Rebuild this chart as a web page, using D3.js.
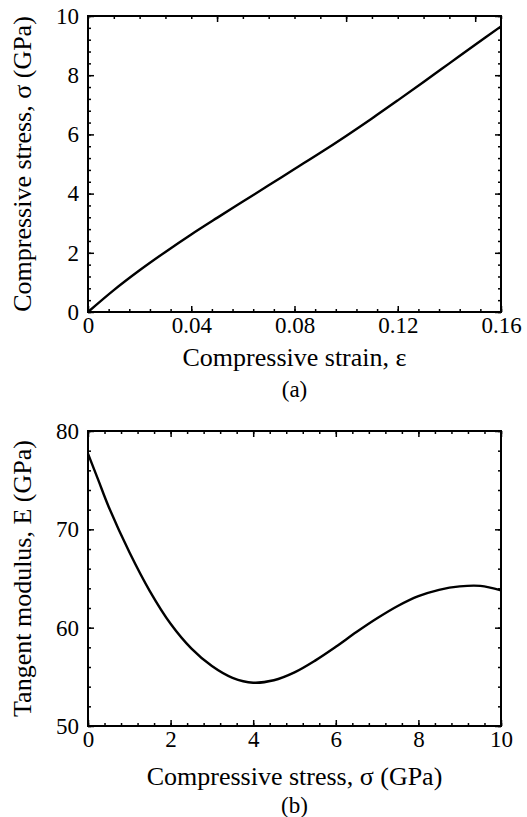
<!DOCTYPE html>
<html lang="en">
<head>
<meta charset="UTF-8">
<title>Compressive stress-strain curve and tangent modulus</title>
<script src="https://d3js.org/d3.v7.min.js"></script>
<style>
    body { margin: 0; background: #fff; }
    svg { display: block; font-family: "Liberation Serif", "Times New Roman", serif; }
    .tick text { font-family: "Liberation Serif", "Times New Roman", serif; font-size: 23px; fill: #000; }
    .tick line { stroke: #000; stroke-width: 1.5; }
    .title { font-size: 26px; fill: #000; }
    .tag { font-size: 23px; fill: #000; }
</style>
</head>
<body>
<div id="chart"></div>
<script>
    // panel (a): stress vs strain
    const strain = [0, 0.01, 0.02, 0.03, 0.04, 0.05, 0.06, 0.07, 0.08, 0.09, 0.10, 0.11, 0.12, 0.13, 0.14, 0.15, 0.16];
    const stress = [0, 0.74, 1.41, 2.03, 2.62, 3.18, 3.73, 4.28, 4.83, 5.38, 5.95, 6.54, 7.15, 7.77, 8.40, 9.03, 9.65];

    // panel (b): tangent modulus vs stress
    const stressB = [0, 0.25, 0.5, 1, 1.5, 2, 2.5, 3, 3.5, 4, 4.5, 5, 5.5, 6, 6.5, 7, 7.5, 8, 8.5, 9, 9.5, 10];
    const modulus = [77.7, 75.0, 72.3, 67.7, 63.7, 60.4, 57.9, 56.1, 54.9, 54.4, 54.65, 55.45, 56.65, 58.05, 59.55, 60.95, 62.2, 63.2, 63.85, 64.2, 64.25, 63.8];

    // tick labels
    const strainTicks = [0, 0.04, 0.08, 0.12, 0.16];
    const strainTopTicks = [0.05, 0.10, 0.15];
    const stressTicks = [0, 2, 4, 6, 8, 10];
    const modulusTicks = [50, 60, 70, 80];

    const W = 527, H = 817;
    const svg = d3.select("#chart").append("svg")
        .attr("width", W)
        .attr("height", H);

    function panel(opt) {
        const x = d3.scaleLinear().domain(opt.xDomain).range([88, 501]);
        const y = d3.scaleLinear().domain(opt.yDomain).range(opt.yRange);
        const g = svg.append("g");
        const [y0, y1] = opt.yRange;

        // minor ticks first, then major ticks with labels
        const sides = [
            {axis: d3.axisBottom, tr: `translate(0,${y0})`, s: x, major: opt.xTicks, minor: opt.xMinor, label: true, fmt: opt.xFmt},
            {axis: d3.axisTop, tr: `translate(0,${y1})`, s: x, major: opt.xTopTicks || opt.xTicks, minor: opt.xTopMinor || opt.xMinor, label: false},
            {axis: d3.axisLeft, tr: `translate(88,0)`, s: y, major: opt.yTicks, minor: opt.yMinor, label: true, fmt: d3.format("d")},
            {axis: d3.axisRight, tr: `translate(501,0)`, s: y, major: opt.yTicks, minor: opt.yMinor, label: false}
        ];
        sides.forEach(sd => {
            g.append("g").attr("transform", sd.tr)
                .call(sd.axis(sd.s).tickValues(sd.minor).tickSizeInner(-3).tickSizeOuter(0).tickFormat(""))
                .call(a => a.select(".domain").remove());
            const isX = sd.axis === d3.axisBottom;
            g.append("g").attr("transform", sd.tr)
                .call(sd.axis(sd.s).tickValues(sd.major).tickSizeInner(-6).tickSizeOuter(0)
                    .tickPadding(isX ? 5 : 9)
                    .tickFormat(sd.label ? sd.fmt : ""))
                .call(a => a.select(".domain").remove());
        });

        g.append("path")
            .datum(opt.xs.map((v, i) => [v, opt.ys[i]]))
            .attr("fill", "none")
            .attr("stroke", "#000")
            .attr("stroke-width", 2.4)
            .attr("d", d3.line().x(d => x(d[0])).y(d => y(d[1])).curve(d3.curveCatmullRom.alpha(0.5)));

        g.append("rect")
            .attr("x", 88).attr("y", y1)
            .attr("width", 501 - 88).attr("height", y0 - y1)
            .attr("fill", "none").attr("stroke", "#000").attr("stroke-width", 2);

        g.append("text").attr("class", "title")
            .attr("x", 294.5).attr("y", opt.xTitleY)
            .attr("text-anchor", "middle").text(opt.xTitle);
        g.append("text").attr("class", "tag")
            .attr("x", 294.5).attr("y", opt.tagY)
            .attr("text-anchor", "middle").text(opt.tag);
        g.append("text").attr("class", "title")
            .attr("transform", `translate(31,${(y0 + y1) / 2}) rotate(-90)`)
            .attr("text-anchor", "middle").text(opt.yTitle);
    }

    panel({
        xDomain: [0, 0.16], yDomain: [0, 10], yRange: [312, 16],
        xTicks: strainTicks, xMinor: d3.range(0, 0.1601, 0.008),
        xTopTicks: strainTopTicks, xTopMinor: d3.range(0, 0.1601, 0.01),
        xFmt: d => d === 0 ? "0" : d3.format(".2f")(d),
        yTicks: stressTicks, yMinor: d3.range(0, 10.01, 0.4),
        xs: strain, ys: stress,
        xTitle: "Compressive strain, ε", xTitleY: 366,
        tag: "(a)", tagY: 397,
        yTitle: "Compressive stress, σ (GPa)"
    });

    panel({
        xDomain: [0, 10], yDomain: [50, 80], yRange: [726, 431],
        xTicks: stressTicks, xMinor: d3.range(0, 10.01, 0.4),
        xFmt: d3.format("d"),
        yTicks: modulusTicks, yMinor: d3.range(50, 80.01, 2),
        xs: stressB, ys: modulus,
        xTitle: "Compressive stress, σ (GPa)", xTitleY: 785,
        tag: "(b)", tagY: 813,
        yTitle: "Tangent modulus, E (GPa)"
    });
</script>
</body>
</html>
